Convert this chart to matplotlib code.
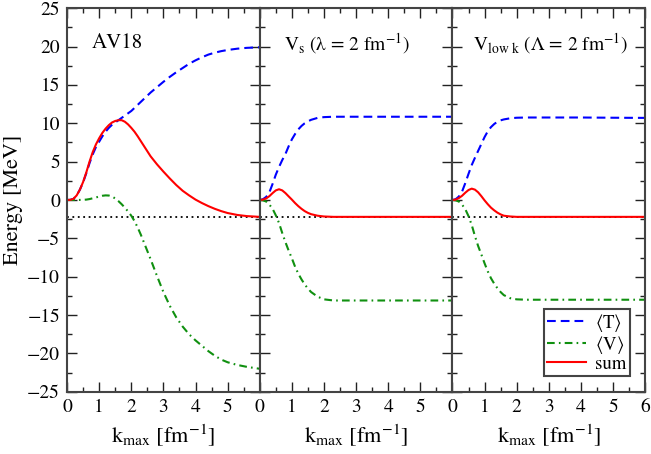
import matplotlib
matplotlib.use("Agg")
import matplotlib.pyplot as plt
from matplotlib.ticker import MultipleLocator

plt.rcParams['font.family'] = ['STIXGeneral', 'DejaVu Serif']
plt.rcParams['mathtext.fontset'] = 'stix'

# AV18
k_av18 = [0, 0.1, 0.2, 0.3, 0.4, 0.5, 0.6, 0.7, 0.8, 0.9, 1.0, 1.1, 1.2, 1.3, 1.4, 1.5,
          1.6, 1.7, 1.8, 1.9, 2.0, 2.1, 2.2, 2.3, 2.4, 2.6, 2.8, 3.0, 3.2, 3.4, 3.6, 3.8,
          4.0, 4.2, 4.4, 4.6, 4.8, 5.0, 5.3, 5.6, 6.0]
T_av18 = [0, 0.02, 0.15, 0.6, 1.35, 2.3, 3.5, 4.8, 5.95, 6.9, 7.6, 8.3, 8.9, 9.4, 9.8, 10.1,
          10.4, 10.7, 11.0, 11.3, 11.6, 12.0, 12.4, 12.8, 13.2, 14.0, 14.7, 15.4, 16.05, 16.65,
          17.2, 17.75, 18.2, 18.6, 18.95, 19.2, 19.4, 19.55, 19.72, 19.83, 19.9]
V_av18 = [0, 0, 0, 0, 0.01, 0.02, 0.05, 0.12, 0.22, 0.33, 0.45, 0.55, 0.6, 0.58, 0.45, 0.2,
          -0.15, -0.55, -1.0, -1.5, -2.05, -2.75, -3.6, -4.55, -5.6, -7.7, -9.9, -12.0, -13.8,
          -15.3, -16.5, -17.5, -18.3, -19.0, -19.7, -20.3, -20.8, -21.15, -21.5, -21.75, -22.0]
S_av18 = [0, 0.02, 0.15, 0.6, 1.35, 2.35, 3.6, 5.0, 6.25, 7.25, 8.05, 8.75, 9.3, 9.75, 10.1,
          10.3, 10.4, 10.4, 10.2, 9.85, 9.4, 8.9, 8.3, 7.65, 7.0, 5.7, 4.65, 3.7, 2.8, 1.95,
          1.2, 0.6, 0.05, -0.4, -0.8, -1.15, -1.45, -1.7, -1.95, -2.1, -2.2]

# V_s (lambda = 2)
k_srg = [0, 0.1, 0.2, 0.3, 0.4, 0.5, 0.6, 0.7, 0.8, 0.9, 1.0, 1.1, 1.2, 1.3, 1.4, 1.5, 1.6,
         1.8, 2.0, 2.3, 2.6, 3.0, 4.0, 5.0, 6.0]
T_srg = [0, 0.1, 0.4, 1.0, 2.1, 3.3, 4.3, 5.2, 6.0, 7.0, 7.9, 8.6, 9.2, 9.65, 10.0, 10.25,
         10.45, 10.7, 10.8, 10.85, 10.85, 10.85, 10.85, 10.85, 10.85]
V_srg = [0, -0.05, -0.2, -0.6, -1.15, -2.0, -3.0, -4.3, -5.5, -6.6, -7.6, -8.7, -9.6, -10.35,
         -11.0, -11.55, -12.0, -12.6, -12.95, -13.1, -13.1, -13.1, -13.1, -13.1, -13.1]
S_srg = [0, 0.05, 0.2, 0.5, 0.9, 1.25, 1.4, 1.25, 0.9, 0.47, 0.05, -0.4, -0.8, -1.15,
         -1.45, -1.68, -1.85, -2.05, -2.15, -2.2, -2.2, -2.2, -2.2, -2.2, -2.2]

# V_low k (Lambda = 2)
k_lowk = [0, 0.1, 0.2, 0.3, 0.4, 0.5, 0.6, 0.7, 0.8, 0.9, 1.0, 1.1, 1.2, 1.3, 1.4, 1.5, 1.6,
          1.8, 2.0, 2.3, 2.6, 3.0, 4.0, 5.0, 6.0]
T_lowk = [0, 0.1, 0.45, 1.1, 2.2, 3.4, 4.55, 5.5, 6.4, 7.3, 8.2, 8.95, 9.5, 9.9, 10.2, 10.38,
          10.5, 10.65, 10.72, 10.75, 10.75, 10.75, 10.75, 10.72, 10.7]
V_lowk = [0, -0.05, -0.2, -0.6, -1.2, -2.1, -3.25, -4.7, -6.0, -7.1, -8.25, -9.3, -10.2,
          -10.9, -11.5, -12.0, -12.4, -12.8, -12.95, -13.0, -13.0, -13.0, -13.0, -13.0, -13.0]
S_lowk = [0, 0.05, 0.25, 0.55, 0.95, 1.3, 1.48, 1.35, 1.0, 0.5, -0.05, -0.55, -1.0, -1.35,
          -1.65, -1.88, -2.05, -2.15, -2.2, -2.2, -2.2, -2.2, -2.2, -2.2, -2.2]

E_deut = -2.2
titles = ['AV18', r'V$_{\rm s}$ (λ = 2 fm$^{-1}$)', r'V$_{\rm low\ k}$ (Λ = 2 fm$^{-1}$)']
title_x = [0.77, 0.75, 0.64]
title_size = [15, 14, 14]
panels = [(k_av18, T_av18, V_av18, S_av18),
          (k_srg, T_srg, V_srg, S_srg),
          (k_lowk, T_lowk, V_lowk, S_lowk)]

fig, axes = plt.subplots(1, 3, sharey=True, figsize=(6.51, 4.54), dpi=100)
fig.subplots_adjust(left=0.103, right=0.991, bottom=0.137, top=0.982, wspace=0)

for i, ax in enumerate(axes):
    k, T, V, S = panels[i]
    ax.axhline(E_deut, color='black', lw=1.3, ls=(0, (1, 2)))
    ax.plot(k, T, color='blue', lw=1.5, dashes=(4.2, 2.4), label=r'$\langle$T$\rangle$')
    ax.plot(k, V, color='#109010', lw=1.5, dashes=(3.7, 2, 0.8, 2), label=r'$\langle$V$\rangle$')
    ax.plot(k, S, color='red', lw=1.5, label='sum')
    ax.text(title_x[i], 20.4, titles[i], fontsize=title_size[i], va='center')

    ax.set_xlim(0, 6)
    ax.set_ylim(-25, 25)
    ax.xaxis.set_major_locator(MultipleLocator(1))
    ax.xaxis.set_minor_locator(MultipleLocator(0.5))
    ax.yaxis.set_major_locator(MultipleLocator(5))
    ax.yaxis.set_minor_locator(MultipleLocator(2.5))
    ax.tick_params(which='both', direction='in', top=True, right=True, width=1,
                   labelsize=14, color='#222222')
    ax.tick_params(which='major', length=7.5, pad=5)
    ax.tick_params(which='minor', length=3.8)
    if i < 2:
        ax.set_xticks([0, 1, 2, 3, 4, 5, 6])
        ax.set_xticklabels(['0', '1', '2', '3', '4', '5', ''])
    for sp in ax.spines.values():
        sp.set_linewidth(1.5)
        sp.set_color('#444444')
    ax.set_xlabel(r'k$_{\rm max}$ [fm$^{-1}$]', fontsize=16, labelpad=5)

axes[0].set_ylabel('Energy [MeV]', fontsize=16, labelpad=3)

leg = axes[2].legend(loc='lower right', bbox_to_anchor=(0.919, 0.042), borderaxespad=0,
                     fontsize=13.5, fancybox=False, framealpha=1, edgecolor='#444444',
                     handlelength=2.1, handletextpad=0.5, labelspacing=0.0, borderpad=0.15)
leg.get_frame().set_linewidth(1.5)

fig.savefig('out.png', dpi=100)
